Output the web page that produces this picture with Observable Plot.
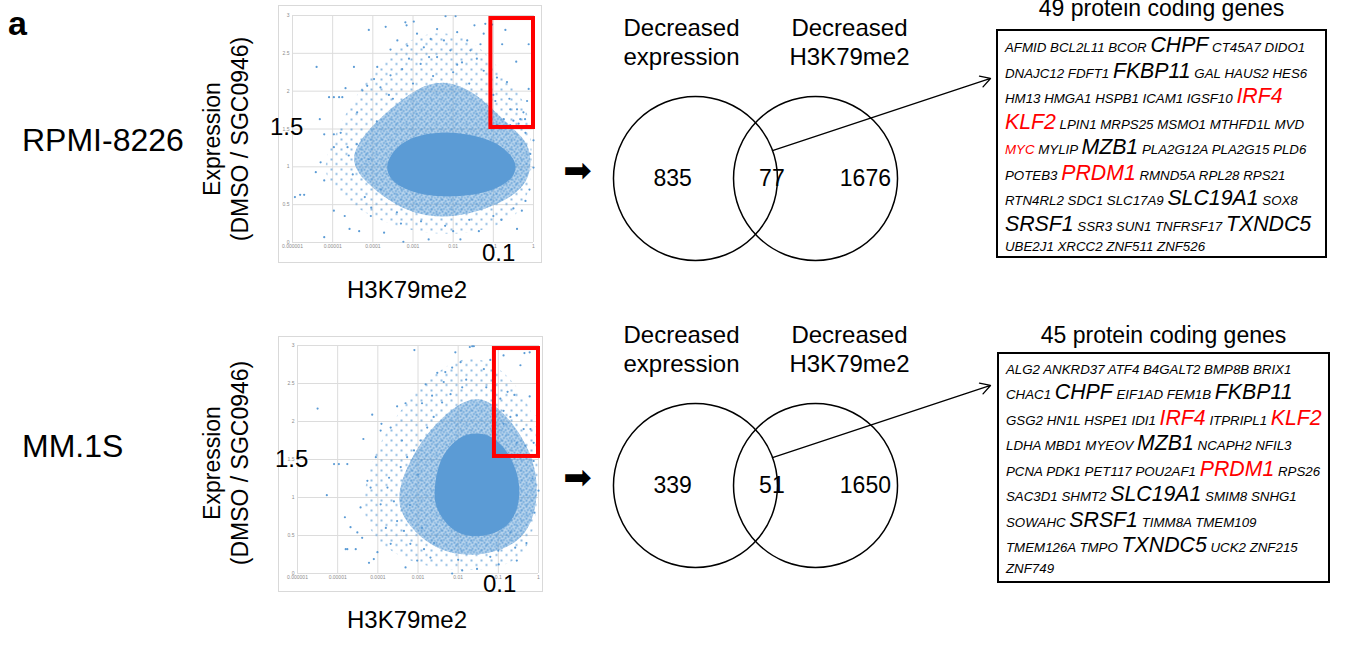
<!DOCTYPE html>
<html>
<head>
<meta charset="utf-8">
<script src="https://cdn.jsdelivr.net/npm/d3@7"></script>
<script src="https://cdn.jsdelivr.net/npm/@observablehq/plot@0.6"></script>
<style>
  html, body { margin: 0; padding: 0; background: #fff; }
  #page { position: relative; width: 1369px; height: 645px; overflow: hidden; font-family: "Liberation Sans", Arial, sans-serif; color: #000; }
  .abs { position: absolute; white-space: nowrap; }
  .frame { position: absolute; border: 1px solid #d9d9d9; background: #fff; }
  .genebox { position: absolute; border: 2px solid #000; box-sizing: border-box; padding-left: 7px; font-style: italic; }
  .gline { white-space: nowrap; font-size: 13.3px; }
</style>
</head>
<body>
<div id="page"></div>
<script>
// ---------------- data ----------------
const xTicks = [1e-6, 1e-5, 1e-4, 1e-3, 1e-2, 1e-1, 1];
const xTickLabels = ["0.000001", "0.00001", "0.0001", "0.001", "0.01", "0.1", "1"];
const yTicks = [0, 0.5, 1, 1.5, 2, 2.5, 3];
const yTickLabels = ["0", "0.5", "1", "1.5", "2", "2.5", "3"];

// scatter points as [log10(H3K79me2), expression ratio]
const rpmiPoints = [
  [-5.40,2.32],[-5.32,1.63],[-5.09,1.92],[-4.97,1.92],[-4.84,1.92],[-4.76,1.92],[-4.68,2.04],[-4.47,2.32],[-4.10,2.81],[-3.68,2.85],
  [-3.19,2.91],[-3.16,2.87],[-2.98,2.92],[-2.19,2.99],[-1.94,2.99],[-1.47,2.87],[-1.03,2.88],[-0.70,2.81],[-0.12,2.62],[-0.78,2.62],
  [-0.43,2.39],[-0.66,2.12],[-0.91,2.18],[-0.12,2.03],[-0.58,1.76],[-0.41,1.76],[-0.25,1.72],[-0.95,1.87],[-0.16,1.87],[-0.74,1.63],
  [-0.50,1.61],[-0.33,1.63],[-0.21,1.63],[-0.91,1.55],[-0.58,1.55],[-0.37,1.57],
  [-5.42,0.93],[-5.30,1.06],[-5.21,0.82],[-5.94,0.60],[-5.81,0.63],[-5.71,0.63],[-5.21,0.07],[-4.97,0.42],[-4.70,0.35],[-4.58,0.18],
  [-4.34,0.15],[-4.04,0.46],[-4.05,0.35],[-3.72,0.13],[-3.24,0.01],[-2.61,0.04],[-1.82,0.04],[-1.36,0.15],[-0.41,0.18],[-0.29,0.42],
  [0,0.99],[0,1.35],[-0.08,1.17],
  [-5.21,1.43],[-4.97,1.43],[-4.80,1.45],[-4.97,1.26],[-4.63,1.26],[-4.39,1.72],[-4.26,2.01],[-4.14,2.07],[-3.81,2.05],[-3.56,2.21],
  [-3.56,2.55],[-3.39,2.67],[-3.14,2.60],[-2.90,2.76],[-2.73,2.58],[-2.56,2.69],[-2.40,2.82],[-2.23,2.67],[-2.07,2.54],[-1.90,2.78],
  [-1.65,2.67],[-1.57,2.54],[-1.41,2.43],[-1.24,2.27],[-1.32,2.62],[-1.78,2.38],[-2.40,2.45],[-2.81,2.36],[-3.10,2.43],[-3.27,2.29],
  [-3.89,2.32],[-3.97,2.16],[-1.24,2.76],[-1.20,2.89],
  [-4.40,1.30],[-4.50,0.90],[-4.20,0.60],[-3.90,1.60],[-3.50,1.90],[-3.00,2.10],[-2.50,2.20],[-2.00,2.25],[-1.60,2.10],[-1.00,1.95],
  [-0.60,1.90],[-0.20,1.45],[-0.10,0.70],[-0.50,0.45],[-1.00,0.35],[-1.60,0.30],[-2.20,0.22],[-2.80,0.28],[-3.40,0.40],[-3.80,0.70],
  [-4.60,1.15],[-4.10,1.10],[-3.30,0.25],[-2.00,0.15],[-0.80,0.30],[-0.20,0.55],[-0.30,1.30],[-1.90,2.35],[-2.60,2.45],[-3.60,1.95]
];
const rpmiHalo = [[-5.3,1.0],[-4.8,1.6],[-4.0,2.3],[-3.0,2.75],[-2.0,2.8],[-1.2,2.55],[-0.6,2.1],[-0.05,1.8],[0,0.6],[-0.6,0.25],[-1.8,0.08],[-3.2,0.15],[-4.3,0.4],[-5.0,0.7]];
const rpmiMid = [[-4.6,1.1],[-4.2,1.45],[-3.6,1.75],[-2.9,2.05],[-2.2,2.15],[-1.5,2.0],[-1.0,1.75],[-0.5,1.5],[-0.1,1.3],[-0.05,1.0],[-0.2,0.75],[-0.7,0.55],[-1.4,0.4],[-2.2,0.32],[-3.0,0.38],[-3.6,0.55],[-4.2,0.8]];
const rpmiCore = [[-3.7,1.0],[-3.5,1.22],[-3.1,1.38],[-2.5,1.46],[-1.8,1.45],[-1.2,1.38],[-0.8,1.28],[-0.5,1.12],[-0.42,1.0],[-0.5,0.86],[-0.8,0.74],[-1.3,0.64],[-2.0,0.6],[-2.7,0.62],[-3.2,0.7],[-3.55,0.82]];

const mmPoints = [
  [-5.50,2.17],[-4.14,2.09],[-3.09,2.94],[-5.09,1.44],[-4.97,1.44],[-4.76,1.44],[-5.27,1.03],[-4.82,0.74],[-4.80,0.32],[-4.68,0.61],
  [-4.51,0.54],[-4.39,0.47],[-4.36,1.77],[-4.05,1.53],[-3.93,1.88],[-3.91,1.97],[-3.68,1.92],[-3.52,2.20],[-3.31,2.24],[-2.90,2.24],
  [-2.81,2.49],[-2.65,2.34],[-2.52,2.64],[-2.32,2.65],[-2.15,2.71],[-2.07,2.91],[-1.94,2.78],[-1.65,2.99],[-1.61,2.99],[-1.71,2.98],
  [-1.90,2.45],[-2.36,2.52],[-2.19,2.36],[-1.36,2.69],[-1.20,2.81],[-0.87,2.87],[-0.45,2.74],[-0.35,2.90],[-0.22,2.91],[-0.22,2.33],
  [-0.77,2.39],[-0.95,2.30],[-0.54,2.08],[-0.37,1.90],[-0.20,1.90],[-0.04,1.93],[-0.87,2.14],[-0.70,2.06],[-0.87,1.97],[-0.54,1.72],
  [-0.33,1.68],[-0.12,1.72],[-0.04,2.08],[0,1.09],[-0.12,1.48],[-4.76,0.32],[-4.55,0.32],[-4.22,0.14],[-4.10,0.19],[-4.01,0.28],
  [-3.31,0.08],[-3.02,0.17],[-2.15,0.0],[-1.90,0.04],[-1.53,0.06],[-0.99,0.12],[-0.58,0.34],[-0.54,0.17],[-0.70,0.54],[-3.76,1.13],
  [-3.72,1.26],[-3.93,0.91],[-4.18,1.13],[-4.26,1.22],[-3.52,0.69],[-3.35,0.56],[-3.19,0.39],[-2.85,0.32],[-2.69,0.21],[-3.68,0.39],
  [-4.43,0.87],[-3.43,1.40],[-3.27,1.53],[-3.10,1.62],[-2.94,1.75],[-2.77,1.92],[-2.61,2.06],
  [-3.60,0.95],[-3.80,0.60],[-3.20,0.90],[-3.00,1.30],[-2.40,2.25],[-1.80,2.55],[-1.30,2.45],[-0.60,2.35],[-0.25,1.55],[-0.10,0.80],
  [-0.30,0.40],[-1.20,0.22],[-2.00,0.18],[-2.60,0.40],[-3.40,1.75],[-1.00,0.30],[-0.15,1.25],[-2.90,0.60]
];
const mmHalo = [[-4.4,1.0],[-4.1,1.6],[-3.4,2.2],[-2.6,2.65],[-1.7,2.9],[-0.9,2.7],[-0.3,2.3],[0,1.9],[0,0.6],[-0.5,0.1],[-1.8,0.02],[-3.0,0.1],[-3.9,0.35],[-4.3,0.65]];
const mmMid = [[-3.5,1.1],[-3.2,1.5],[-2.7,1.9],[-2.1,2.2],[-1.5,2.35],[-0.9,2.15],[-0.4,1.8],[-0.05,1.4],[-0.02,0.9],[-0.3,0.5],[-0.9,0.3],[-1.7,0.22],[-2.5,0.3],[-3.1,0.55],[-3.45,0.8]];
const mmCore = [[-2.6,1.1],[-2.5,1.45],[-2.2,1.7],[-1.8,1.85],[-1.3,1.85],[-0.9,1.7],[-0.6,1.45],[-0.45,1.15],[-0.5,0.85],[-0.75,0.62],[-1.2,0.5],[-1.7,0.48],[-2.1,0.55],[-2.4,0.72],[-2.58,0.9]];

// selection box: H3K79me2 and expression thresholds
const rpmiBox = {x1: 0.087, x2: 1, y1: 1.52, y2: 2.96};
const mmBox = {x1: 0.08, x2: 1, y1: 1.54, y2: 2.96};

// Venn counts
const vennLabels = ["Decreased\nexpression", "Decreased\nH3K79me2"];
const rpmiVenn = [835, 77, 1676];
const mmVenn = [339, 51, 1650];

// gene lists (line by line as printed)
const rpmiGeneLines = [
  ["AFMID","BCL2L11","BCOR","CHPF","CT45A7","DIDO1"],
  ["DNAJC12","FDFT1","FKBP11","GAL","HAUS2","HES6"],
  ["HM13","HMGA1","HSPB1","ICAM1","IGSF10","IRF4"],
  ["KLF2","LPIN1","MRPS25","MSMO1","MTHFD1L","MVD"],
  ["MYC","MYLIP","MZB1","PLA2G12A","PLA2G15","PLD6"],
  ["POTEB3","PRDM1","RMND5A","RPL28","RPS21"],
  ["RTN4RL2","SDC1","SLC17A9","SLC19A1","SOX8"],
  ["SRSF1","SSR3","SUN1","TNFRSF17","TXNDC5"],
  ["UBE2J1","XRCC2","ZNF511","ZNF526"]
];
const mmGeneLines = [
  ["ALG2","ANKRD37","ATF4","B4GALT2","BMP8B","BRIX1"],
  ["CHAC1","CHPF","EIF1AD","FEM1B","FKBP11"],
  ["GSG2","HN1L","HSPE1","IDI1","IRF4","ITPRIPL1","KLF2"],
  ["LDHA","MBD1","MYEOV","MZB1","NCAPH2","NFIL3"],
  ["PCNA","PDK1","PET117","POU2AF1","PRDM1","RPS26"],
  ["SAC3D1","SHMT2","SLC19A1","SMIM8","SNHG1"],
  ["SOWAHC","SRSF1","TIMM8A","TMEM109"],
  ["TMEM126A","TMPO","TXNDC5","UCK2","ZNF215"],
  ["ZNF749"]
];
const bigGenes = ["CHPF","FKBP11","IRF4","KLF2","MZB1","PRDM1","SLC19A1","SRSF1","TXNDC5"];
const redGenes = ["IRF4","KLF2","PRDM1","MYC"];

// ---------------- drawing ----------------
const page = document.getElementById("page");
const FONT = '"Liberation Sans", Arial, sans-serif';
const BLUE = "#5b9bd5";

function addDiv(html, style) {
  const d = document.createElement("div");
  d.className = "abs";
  d.innerHTML = html;
  Object.assign(d.style, style);
  page.appendChild(d);
  return d;
}

function scatterPlot(cfg, id) {
  const toXY = a => a.map(([e, y]) => ({x: 10 ** e, y}));
  const blob = (a, fill, op) => Plot.line(toXY(a), {x: "x", y: "y", curve: "basis-closed", fill, fillOpacity: op, stroke: "none", clip: true});
  const svg = Plot.plot({
    width: cfg.width, height: cfg.height,
    marginLeft: cfg.ml, marginRight: cfg.mr, marginTop: cfg.mt, marginBottom: cfg.mb,
    x: {type: "log", domain: [1e-6, 1], ticks: xTicks, tickFormat: d => xTickLabels[xTicks.indexOf(d)], tickSize: 0, tickPadding: 2, label: null},
    y: {domain: [0, 3], ticks: yTicks, tickFormat: d => yTickLabels[yTicks.indexOf(d)], tickSize: 0, tickPadding: 3, label: null},
    style: {fontSize: "5px", fontFamily: FONT, color: "#8c8c8c", background: "white", overflow: "visible"},
    marks: [
      Plot.ruleX(xTicks, {stroke: "#dcdcdc", strokeWidth: 1}),
      Plot.ruleY(yTicks, {stroke: "#dcdcdc", strokeWidth: 1}),
      blob(cfg.halo, `url(#halo${id})`, 1),
      blob(cfg.mid, BLUE, 0.4),
      blob(cfg.mid, `url(#mid${id})`, 1),
      blob(cfg.core, BLUE, 1),
      Plot.dot(toXY(cfg.points), {x: "x", y: "y", r: 1.1, fill: BLUE, stroke: "none"}),
      Plot.rect([cfg.box], {x1: "x1", x2: "x2", y1: "y1", y2: "y2", fill: "none", stroke: "#ff0000", strokeWidth: 4})
    ]
  });
  // dot textures used to fill the density regions
  d3.select(svg).insert("defs", ":first-child").html(
    `<pattern id="halo${id}" width="10" height="10" patternUnits="userSpaceOnUse">
       <circle cx="2" cy="3" r="0.9" fill="${BLUE}"/><circle cx="7" cy="7.5" r="0.9" fill="${BLUE}"/>
     </pattern>
     <pattern id="mid${id}" width="6" height="6" patternUnits="userSpaceOnUse">
       <circle cx="1" cy="1.2" r="1" fill="${BLUE}"/><circle cx="4.2" cy="2.4" r="1" fill="${BLUE}"/>
       <circle cx="2.4" cy="4.6" r="1" fill="${BLUE}"/><circle cx="5.4" cy="5.3" r="0.8" fill="${BLUE}"/>
     </pattern>`);
  return svg;
}

function placeScatter(cfg, left, top, id) {
  const f = document.createElement("div");
  f.className = "frame";
  Object.assign(f.style, {left: left + "px", top: top + "px", width: cfg.width + "px", height: cfg.height + "px"});
  const svg = scatterPlot(cfg, id);
  svg.style.display = "block";
  f.appendChild(svg);
  page.appendChild(f);
}

placeScatter({width: 262, height: 256, ml: 13, mr: 8, mt: 9, mb: 20, points: rpmiPoints, halo: rpmiHalo, mid: rpmiMid, core: rpmiCore, box: rpmiBox}, 278, 5, "A");
placeScatter({width: 263, height: 254, ml: 18, mr: 4, mt: 8, mb: 18, points: mmPoints, halo: mmHalo, mid: mmMid, core: mmCore, box: mmBox}, 278, 336, "B");

// Venn diagrams
function vennPlot(counts) {
  const R = 82;
  return Plot.plot({
    width: 445, height: 300, margin: 0,
    x: {domain: [-200 / R, 245 / R], axis: null},
    y: {domain: [-122 / R, 178 / R], axis: null},
    style: {fontFamily: FONT, background: "transparent", overflow: "visible"},
    marks: [
      Plot.dot([-0.732, 0.732], {x: d => d, y: 0, r: R, fill: "none", stroke: "black", strokeWidth: 1.5}),
      Plot.text(counts, {x: [-1.01, 0.2, 1.34], y: 0, text: d => String(d), fontSize: 23, fill: "black"}),
      Plot.text(vennLabels, {x: [-0.902, 1.146], y: 1.671, text: d => d, fontSize: 24, lineHeight: 1.18, fill: "black"}),
      Plot.arrow([{x1: 0.207, y1: 0.341, x2: 2.866, y2: 1.22}], {x1: "x1", y1: "y1", x2: "x2", y2: "y2", stroke: "black", strokeWidth: 1.3, headLength: 13}),
      Plot.text(["\u27A1"], {x: -2.17, y: 0.085, text: d => d, fontSize: 34, fontFamily: "DejaVu Sans", fill: "black"})
    ]
  });
}
function placeVenn(counts, top) {
  const svg = vennPlot(counts);
  const w = document.createElement("div");
  w.className = "abs";
  Object.assign(w.style, {left: "555px", top: top + "px"});
  svg.style.display = "block";
  w.appendChild(svg);
  page.appendChild(w);
}
placeVenn(rpmiVenn, 0);
placeVenn(mmVenn, 307);

// gene boxes
function geneBox(lines, title, box, titleTop) {
  const b = document.createElement("div");
  b.className = "genebox";
  Object.assign(b.style, {left: box.left + "px", top: box.top + "px", width: box.width + "px", height: box.height + "px", paddingTop: box.pad + "px"});
  lines.forEach(words => {
    const hasBig = words.some(w => bigGenes.includes(w));
    const ln = document.createElement("div");
    ln.className = "gline";
    const h = hasBig ? 25.5 : 20;
    ln.style.height = h + "px";
    ln.style.lineHeight = h + "px";
    ln.innerHTML = words.map(w => {
      const big = bigGenes.includes(w);
      const red = redGenes.includes(w);
      return `<span style="font-size:${big ? 21.3 : 13.3}px;color:${red ? "#ff0000" : "#000"}">${w}</span>`;
    }).join(" ");
    b.appendChild(ln);
  });
  page.appendChild(b);
  addDiv(title, {left: (box.left + box.width / 2) + "px", top: titleTop + "px", transform: "translateX(-50%)", fontSize: "23px", lineHeight: "23px"});
}
geneBox(rpmiGeneLines, rpmiGeneLines.flat().length + " protein coding genes", {left: 996, top: 29, width: 331, height: 229, pad: 2}, -3);
geneBox(mmGeneLines, mmGeneLines.flat().length + " protein coding genes", {left: 997, top: 352, width: 333, height: 231, pad: 6}, 324);

// text labels
addDiv("a", {left: "8px", top: "6px", fontSize: "34px", fontWeight: "bold", lineHeight: "34px"});
addDiv("RPMI-8226", {left: "22px", top: "124px", fontSize: "32px", lineHeight: "33px"});
addDiv("MM.1S", {left: "22px", top: "430px", fontSize: "32px", lineHeight: "33px"});

[139, 463].forEach(cy => {
  addDiv("Expression<br>(DMSO / SGC0946)", {left: "226px", top: cy + "px", transform: "translate(-50%,-50%) rotate(-90deg)", textAlign: "center", fontSize: "23px", lineHeight: "28px"});
});
[290, 620].forEach(cy => {
  addDiv("H3K79me2", {left: "407px", top: (cy - 12) + "px", transform: "translateX(-50%)", fontSize: "24px", lineHeight: "24px"});
});
// threshold annotations
addDiv("1.5", {left: "270px", top: "115px", fontSize: "24px", lineHeight: "24px", zIndex: 5});
addDiv("0.1", {left: "482px", top: "241px", fontSize: "24px", lineHeight: "24px", zIndex: 5});
addDiv("1.5", {left: "275px", top: "447px", fontSize: "24px", lineHeight: "24px", zIndex: 5});
addDiv("0.1", {left: "483px", top: "572px", fontSize: "24px", lineHeight: "24px", zIndex: 5});
</script>
</body>
</html>
